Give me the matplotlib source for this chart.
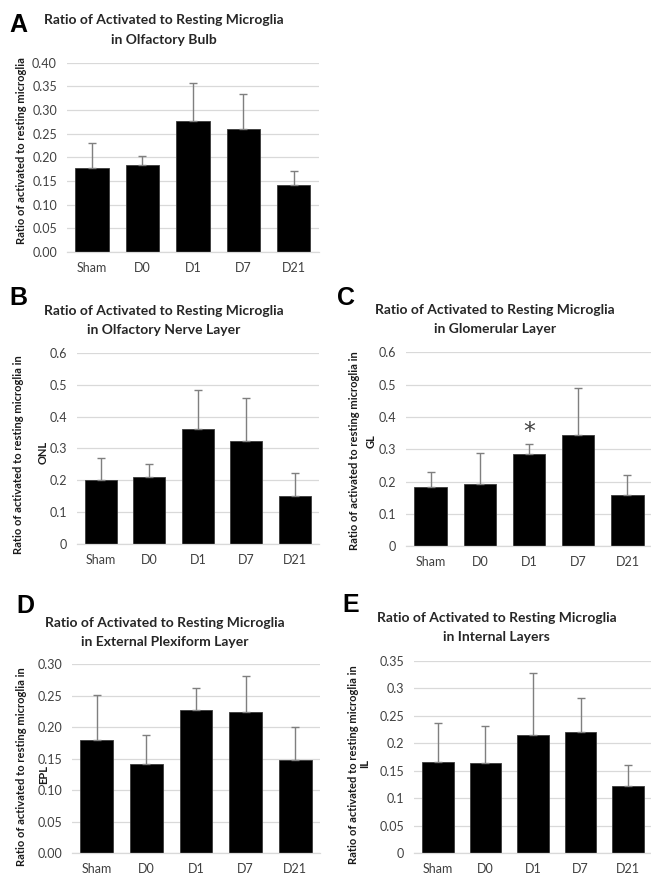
"""
Ratio of activated to resting microglia across olfactory bulb layers (panels A-E).
"""

import matplotlib.pyplot as plt
from matplotlib.ticker import FixedLocator

plt.rcParams["font.family"] = ["Lato", "DejaVu Sans"]

groups = ["Sham", "D0", "D1", "D7", "D21"]

# olfactory bulb (whole)
ob_mean = [0.178, 0.183, 0.277, 0.259, 0.141]
ob_err = [0.052, 0.019, 0.080, 0.074, 0.031]

# olfactory nerve layer
onl_mean = [0.201, 0.210, 0.361, 0.322, 0.150]
onl_err = [0.070, 0.040, 0.123, 0.137, 0.074]

# glomerular layer
gl_mean = [0.184, 0.193, 0.284, 0.343, 0.159]
gl_err = [0.045, 0.095, 0.033, 0.147, 0.060]

# external plexiform layer
epl_mean = [0.180, 0.141, 0.227, 0.224, 0.148]
epl_err = [0.072, 0.046, 0.036, 0.058, 0.053]

# internal layers
il_mean = [0.166, 0.165, 0.215, 0.221, 0.122]
il_err = [0.072, 0.066, 0.114, 0.062, 0.038]

ticks_ob = [0.00, 0.05, 0.10, 0.15, 0.20, 0.25, 0.30, 0.35, 0.40]
ticks_layer = [0, 0.1, 0.2, 0.3, 0.4, 0.5, 0.6]
ticks_epl = [0.00, 0.05, 0.10, 0.15, 0.20, 0.25, 0.30]
ticks_il = [0, 0.05, 0.1, 0.15, 0.2, 0.25, 0.3, 0.35]

W, H = 651, 875
fig = plt.figure(figsize=(W / 100, H / 100), dpi=100)

GRID = "#d9d9d9"
TICK = "#404040"


def px_axes(x0, y0, x1, y1):
    # pixel box (top-left origin) -> figure axes
    return fig.add_axes([x0 / W, 1 - y1 / H, (x1 - x0) / W, (y1 - y0) / H])


def fig_text(x, y, s, **kw):
    return fig.text(x / W, 1 - y / H, s, **kw)


def draw_panel(ax, mean, err, ticks, fmt):
    x = range(len(groups))
    ax.set_axisbelow(True)
    ax.bar(x, mean, width=0.66, color="black", edgecolor="#3a3a3a", linewidth=0.6, zorder=2)
    ax.errorbar(x, mean, yerr=[[0] * len(err), err], fmt="none", ecolor="#7f7f7f",
                elinewidth=1.0, capsize=2.8, capthick=1.0, zorder=3)
    ax.set_xlim(-0.5, len(groups) - 0.5)
    ax.set_ylim(ticks[0], ticks[-1])
    ax.yaxis.set_major_locator(FixedLocator(ticks))
    ax.set_yticklabels([fmt(t) for t in ticks])
    ax.set_xticks(list(x))
    ax.set_xticklabels(groups)
    ax.grid(axis="y", color=GRID, linewidth=0.9)
    for side in ["top", "right", "left"]:
        ax.spines[side].set_visible(False)
    ax.spines["bottom"].set_color(GRID)
    ax.spines["bottom"].set_linewidth(0.9)
    ax.tick_params(axis="both", length=0, labelsize=9, labelcolor=TICK)
    ax.tick_params(axis="x", pad=7)
    ax.tick_params(axis="y", pad=7)


def two_dec(t):
    return f"{t:.2f}"


def general(t):
    return "0" if t == 0 else f"{t:g}"


title_kw = dict(ha="center", va="center", fontsize=10, fontweight="bold", color="#262626")
letter_kw = dict(ha="left", va="center", fontsize=18, fontweight="bold",
                 family="Liberation Sans", color="black")
ylab_kw = dict(ha="center", va="center", rotation=90, fontsize=8, fontweight="bold", color="#1a1a1a")

# A
ax_a = px_axes(66.7, 62.7, 319, 252)
draw_panel(ax_a, ob_mean, ob_err, ticks_ob, two_dec)
fig_text(9, 25, "A", **letter_kw)
fig_text(164, 20, "Ratio of Activated to Resting Microglia", **title_kw)
fig_text(164, 39.5, "in Olfactory Bulb", **title_kw)
fig_text(22, 151, "Ratio of activated to resting microglia", **ylab_kw)

# B
ax_b = px_axes(76.7, 352.7, 319, 544.3)
draw_panel(ax_b, onl_mean, onl_err, ticks_layer, general)
fig_text(9, 298, "B", **letter_kw)
fig_text(164, 310.7, "Ratio of Activated to Resting Microglia", **title_kw)
fig_text(164, 330, "in Olfactory Nerve Layer", **title_kw)
fig_text(19, 455, "Ratio of activated to resting microglia in", **ylab_kw)
fig_text(43.5, 452, "ONL", **ylab_kw)

# C
ax_c = px_axes(406, 352.3, 652, 546.3)
draw_panel(ax_c, gl_mean, gl_err, ticks_layer, general)
ax_c.text(2, 0.352, "*", ha="center", va="center", fontsize=17, color="#404040",
          family="DejaVu Sans")
fig_text(337, 298, "C", **letter_kw)
fig_text(494.7, 310, "Ratio of Activated to Resting Microglia", **title_kw)
fig_text(494.7, 329, "in Glomerular Layer", **title_kw)
fig_text(354, 451, "Ratio of activated to resting microglia in", **ylab_kw)
fig_text(371, 441, "GL", **ylab_kw)

# D
ax_d = px_axes(72, 664.3, 320, 853.3)
draw_panel(ax_d, epl_mean, epl_err, ticks_epl, two_dec)
fig_text(16, 606, "D", **letter_kw)
fig_text(165, 623, "Ratio of Activated to Resting Microglia", **title_kw)
fig_text(165, 641.7, "in External Plexiform Layer", **title_kw)
fig_text(21.5, 767, "Ratio of activated to resting microglia in", **ylab_kw)
fig_text(43.5, 775, "EPL", **ylab_kw)

# E
ax_e = px_axes(414, 661, 652, 853.3)
draw_panel(ax_e, il_mean, il_err, ticks_il, general)
fig_text(342, 605, "E", **letter_kw)
fig_text(496.7, 618, "Ratio of Activated to Resting Microglia", **title_kw)
fig_text(496.7, 636.7, "in Internal Layers", **title_kw)
fig_text(353.5, 765, "Ratio of activated to resting microglia in", **ylab_kw)
fig_text(364.5, 763, "IL", **ylab_kw)

fig.savefig("out.png", dpi=100)
